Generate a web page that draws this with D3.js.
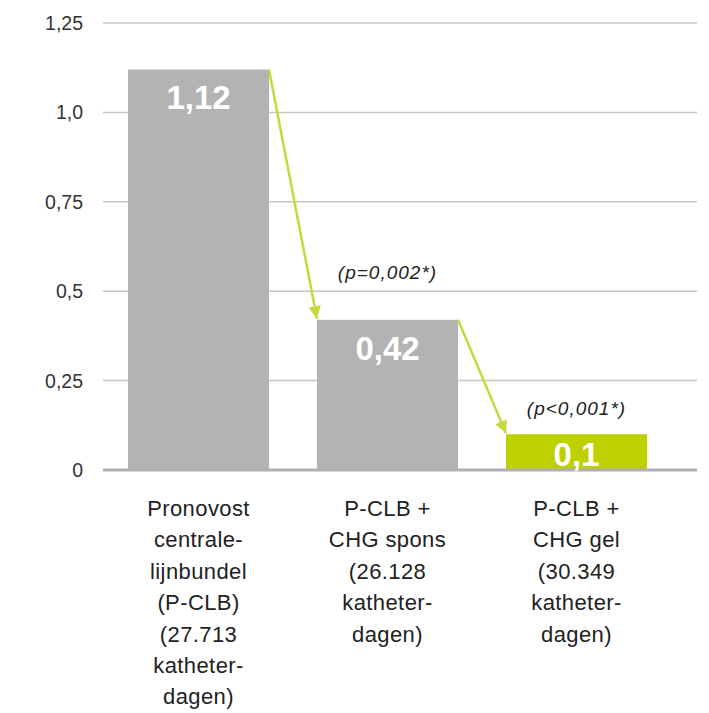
<!DOCTYPE html>
<html>
<head>
<meta charset="utf-8">
<script src="https://cdn.jsdelivr.net/npm/d3@7"></script>
<style>
  body { margin: 0; background: #fff; }
  svg { display: block; font-family: 'Liberation Sans', Arial, sans-serif; }
</style>
</head>
<body>
<div id="chart"></div>
<script>
// data
let categories = [
  ['Pronovost', 'centrale-', 'lijnbundel', '(P-CLB)', '(27.713', 'katheter-', 'dagen)'],
  ['P-CLB +', 'CHG spons', '(26.128', 'katheter-', 'dagen)'],
  ['P-CLB +', 'CHG gel', '(30.349', 'katheter-', 'dagen)']
]
let values = [1.12, 0.42, 0.1]
let valueLabels = ['1,12', '0,42', '0,1']
let pLabels = ['', '(p=0,002*)', '(p<0,001*)']
let yTicks = [0, 0.25, 0.5, 0.75, 1.0, 1.25]
let yTickLabels = ['0', '0,25', '0,5', '0,75', '1,0', '1,25']

let width = 709, height = 713
let y0 = 470, y1 = 23

let svg = d3.select('#chart')
  .append('svg')
  .attr('width', width)
  .attr('height', height)

let y = d3.scaleLinear().domain([0, 1.25]).range([y0, y1])
let x = d3.scaleBand()
  .domain(d3.range(values.length))
  .range([104, 671])
  .paddingInner(0.254)
  .paddingOuter(0.127)

// grid lines
svg.append('g')
  .selectAll('line')
  .data(yTicks.slice(1))
  .enter()
  .append('line')
  .attr('x1', 103)
  .attr('x2', 697)
  .attr('y1', d => y(d))
  .attr('y2', d => y(d))
  .attr('stroke', '#c6c6c6')
  .attr('stroke-width', 1.5)

// y axis labels
svg.append('g')
  .selectAll('text')
  .data(yTicks)
  .enter()
  .append('text')
  .attr('x', 83)
  .attr('y', d => y(d) + 7)
  .attr('text-anchor', 'end')
  .attr('font-size', 19.5)
  .attr('fill', '#333')
  .text((d, i) => yTickLabels[i])

// bars
let colors = ['#b3b3b3', '#b3b3b3', '#bed000']
svg.append('g')
  .selectAll('rect')
  .data(values)
  .enter()
  .append('rect')
  .attr('x', (d, i) => x(i))
  .attr('y', d => y(d))
  .attr('width', x.bandwidth())
  .attr('height', d => y0 - y(d))
  .attr('fill', (d, i) => colors[i])

// baseline
svg.append('line')
  .attr('x1', 103)
  .attr('x2', 697)
  .attr('y1', y0)
  .attr('y2', y0)
  .attr('stroke', '#b0b0b0')
  .attr('stroke-width', 3)

// value labels
svg.append('g')
  .selectAll('text')
  .data(values)
  .enter()
  .append('text')
  .attr('x', (d, i) => x(i) + x.bandwidth() / 2)
  .attr('y', d => Math.min(y(d) + 40, y0 - 4))
  .attr('text-anchor', 'middle')
  .attr('font-size', 33)
  .attr('font-weight', 'bold')
  .attr('fill', '#fff')
  .text((d, i) => valueLabels[i])

// arrows
let arrowColor = '#c9d73c'
svg.append('defs')
  .append('marker')
  .attr('id', 'head')
  .attr('viewBox', '0 0 10 10')
  .attr('refX', 10)
  .attr('refY', 5)
  .attr('markerWidth', 6)
  .attr('markerHeight', 5)
  .attr('markerUnits', 'strokeWidth')
  .attr('orient', 'auto')
  .append('path')
  .attr('d', 'M0,0L10,5L0,10Z')
  .attr('fill', arrowColor)

for (let i = 0; i < values.length - 1; i++) {
  svg.append('line')
    .attr('x1', x(i) + x.bandwidth())
    .attr('y1', y(values[i]))
    .attr('x2', x(i + 1))
    .attr('y2', y(values[i + 1]) - 1)
    .attr('stroke', arrowColor)
    .attr('stroke-width', 2.5)
    .attr('marker-end', 'url(#head)')
}

// p-value labels
let pOffsets = [0, 41, 19]
svg.append('g')
  .selectAll('text')
  .data(pLabels)
  .enter()
  .append('text')
  .attr('x', (d, i) => x(i) + x.bandwidth() / 2)
  .attr('y', (d, i) => y(values[i]) - pOffsets[i])
  .attr('text-anchor', 'middle')
  .attr('font-size', 19)
  .attr('letter-spacing', 1)
  .attr('font-style', 'italic')
  .attr('fill', '#222')
  .text(d => d)

// category labels
let cat = svg.append('g')
  .selectAll('text')
  .data(categories)
  .enter()
  .append('text')
  .attr('text-anchor', 'middle')
  .attr('font-size', 22)
  .attr('letter-spacing', 0.4)
  .attr('fill', '#222')
  .attr('transform', (d, i) => 'translate(' + (x(i) + x.bandwidth() / 2) + ',516)')

cat.selectAll('tspan')
  .data(d => d)
  .enter()
  .append('tspan')
  .attr('x', 0)
  .attr('y', (d, i) => i * 31.4)
  .text(d => d)
</script>
</body>
</html>
